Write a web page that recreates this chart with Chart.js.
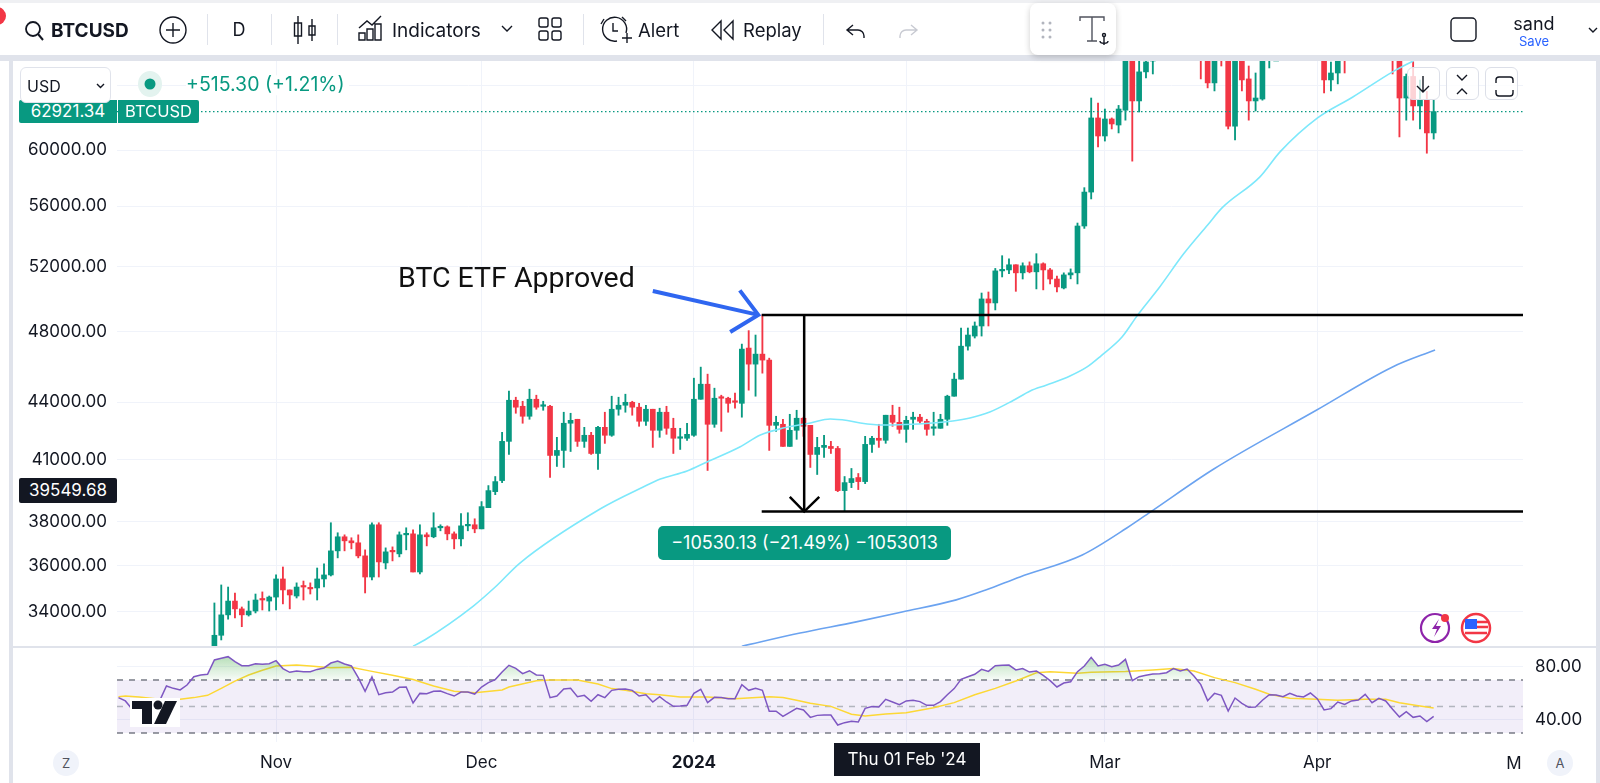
<!DOCTYPE html>
<html>
<head>
<meta charset="utf-8">
<title>BTCUSD</title>
<script src="https://cdn.jsdelivr.net/npm/chart.js@4"></script>
<style>
  html, body { margin: 0; padding: 0; background: #fff; }
  body { width: 1600px; height: 783px; position: relative; overflow: hidden; font-family: Inter, sans-serif; color: #131722; }
  canvas { position: absolute; left: 0; display: block; }
  .abs { position: absolute; white-space: nowrap; line-height: 1; }
  .mid { transform: translateY(-50%); }
  .center { transform: translate(-50%, -50%); }
  .sep { position: absolute; top: 14px; height: 31px; width: 1px; background: #e0e3eb; }
  .band { position: absolute; background: #e0e3eb; }
  .tag { position: absolute; color: #fff; display: flex; align-items: center; justify-content: center; font-size: 16.500px; line-height: 1; overflow: hidden; }
  .pane-btn { position: absolute; top: 67px; width: 31px; height: 31px; background: rgba(255,255,255,.78); border: 1.5px solid #dcdfe8; border-radius: 6px; }
  .round { position: absolute; width: 26px; height: 26px; border-radius: 50%; background: #f0f3fa; display: flex; align-items: center; justify-content: center; font-size: 13px; color: #50535e; }
  svg { position: absolute; overflow: visible; }
</style>
</head>
<body>
<canvas id="priceChart" width="1600" height="646" style="top:0"></canvas>
<canvas id="rsiChart" width="1600" height="137" style="top:646px"></canvas>

<!-- шапка -->
<div class="band" style="left:0;top:0;width:1600px;height:3px;background:#eff0f3"></div>
<div class="band" style="left:0;top:55px;width:1600px;height:6px"></div>
<div class="band" style="left:9px;top:55px;width:4px;height:728px"></div>
<div class="band" style="left:1596px;top:55px;width:4px;height:728px"></div>
<div class="band" style="left:13px;top:646px;width:1583px;height:1.5px"></div>
<div style="position:absolute;left:0;top:3px;width:1600px;height:52px;background:#fff"></div>

<svg style="left:0;top:0" width="1600" height="60" fill="none" stroke="#131722" stroke-width="1.4">
  <circle cx="-3" cy="16" r="9" fill="#f23645" stroke="none"/>
  <circle cx="33" cy="29" r="7" stroke-width="1.8"/><path d="M38 34l5 6" stroke-width="2"/>
  <circle cx="173" cy="30" r="13"/><path d="M173 23v14M166 30h14"/>
  <path d="M298 16v28M312 19v22M294.500 23h7v13h-7zM309 26h6v9h-6z"/>
  <path d="M359 40V33h6v7zM367 40V29h6v11zM375 40V24h6v16zM359 28l8-7 5 4 9-9"/>
  <path d="M502 26l5 5 5-5"/>
  <rect x="539" y="18" width="9" height="9" rx="2"/><rect x="552" y="18" width="9" height="9" rx="2"/>
  <rect x="539" y="31" width="9" height="9" rx="2"/><rect x="552" y="31" width="9" height="9" rx="2"/>
  <path d="M617 41a12 12 0 1 1 9-8M613 23v8h5M622 38h10M627 33v10M604 19l-3 5M622 17l4 4"/>
  <path d="M721 21l-9 9 9 9zM733 21l-9 9 9 9z"/>
  <path d="M853 25l-6 5 6 5M848 30h10a6 6 0 0 1 6 6v2"/>
  <path d="M911 25l6 5-6 5M916 30h-10a6 6 0 0 0-6 6v2" stroke="#c8cad2"/>
</svg>
<div class="abs mid" style="left:51px;top:30px;font-size:19px;font-weight:700">BTCUSD</div>
<div class="sep" style="left:207px"></div>
<div class="abs center" style="left:239px;top:30px;font-size:18px">D</div>
<div class="sep" style="left:271px"></div>
<div class="sep" style="left:337px"></div>
<div class="abs mid" style="left:392px;top:30px;font-size:19px">Indicators</div>
<div class="sep" style="left:583px"></div>
<div class="abs mid" style="left:638px;top:30px;font-size:18.500px">Alert</div>
<div class="abs mid" style="left:743px;top:30px;font-size:18.500px">Replay</div>
<div class="sep" style="left:823px"></div>

<div style="position:absolute;left:1030px;top:3px;width:86px;height:52px;background:#fff;border-radius:8px;box-shadow:0 2px 6px rgba(0,0,0,.2)"></div>
<svg style="left:0;top:0" width="1600" height="60" fill="none" stroke="#50535e" stroke-width="1.4">
  <g fill="#b2b5be" stroke="none">
    <circle cx="1043" cy="23" r="1.5"/><circle cx="1050" cy="23" r="1.5"/>
    <circle cx="1043" cy="30" r="1.5"/><circle cx="1050" cy="30" r="1.5"/>
    <circle cx="1043" cy="37" r="1.5"/><circle cx="1050" cy="37" r="1.5"/>
  </g>
  <path d="M1080 21v-4h24v4M1092 17v24M1087 41h10"/>
  <circle cx="1104" cy="35" r="1.5" stroke="#131722"/><path d="M1104 36v9M1100 41c0 3 8 3 8 0" stroke="#131722"/>
  <rect x="1451" y="18" width="25" height="23" rx="4" stroke="#131722"/>
  <path d="M1589 28l4 4 4-4" stroke="#131722"/>
</svg>
<div class="abs center" style="left:1534px;top:24px;font-size:18px">sand</div>
<div class="abs center" style="left:1534px;top:41px;font-size:13px;color:#2962ff">Save</div>

<!-- подписи на панели цены -->
<div class="tag" style="left:19px;top:100px;width:98px;height:23px;background:#089981;border-radius:2px 0 0 2px;font-size:17px;box-sizing:border-box">62921.34</div>
<div class="tag" style="left:118px;top:100px;width:81px;height:23px;background:#089981;border-radius:0 2px 2px 0">BTCUSD</div>
<div class="tag" style="left:19px;top:478px;width:98px;height:25px;background:#131722;border-radius:2px;font-size:17px">39549.68</div>
<div style="position:absolute;left:20px;top:67px;width:91px;height:36px;box-sizing:border-box;background:#fff;border:1.5px solid #e0e3eb;border-radius:6px"></div>
<div class="abs mid" style="left:27px;top:86px;font-size:16px">USD</div>
<svg style="left:0;top:60px" width="200" height="50" fill="none">
  <path d="M97 24l3.500 3.500 3.500-3.500" stroke="#131722" stroke-width="1.400"/>
  <ellipse cx="150" cy="24" rx="12" ry="13" fill="#e3f3ef"/>
  <circle cx="150" cy="24" r="5.500" fill="#089981"/>
</svg>
<div class="abs mid" style="left:186px;top:85px;font-size:19.500px;color:#089981;background:#fff;padding:0 4px 0 0">+515.30 (+1.21%)</div>
<div class="pane-btn" style="left:1407px"></div>
<div class="pane-btn" style="left:1446px"></div>
<div class="pane-btn" style="left:1485px"></div>
<svg style="left:0;top:60px" width="1600" height="50" fill="none" stroke="#131722" stroke-width="1.400">
  <path d="M1423 16v16M1417 26l6 6 6-6"/>
  <path d="M1457 15l5 5 5-5M1457 34l5-5 5 5"/>
  <path d="M1496 23v-3a3 3 0 0 1 3-3h11a3 3 0 0 1 3 3v3M1496 30v3a3 3 0 0 0 3 3h11a3 3 0 0 0 3-3v-3"/>
</svg>

<div class="abs mid" style="left:398px;top:278px;font-size:28.500px;font-family:Roboto,sans-serif;color:#111">BTC ETF Approved</div>
<div class="tag" style="left:658px;top:526px;width:293px;height:34px;background:#089981;border-radius:5px;font-size:18px">−10530.13 (−21.49%) −1053013</div>

<svg style="left:0;top:0" width="1600" height="783" fill="none">
  <circle cx="1435" cy="628" r="14" stroke="#8e24aa" stroke-width="2.200"/>
  <path d="M1439 619l-7 10h5l-3 8 7-11h-5z" fill="#8e24aa"/>
  <circle cx="1445" cy="618" r="4" fill="#f23645"/>
  <circle cx="1476" cy="628" r="14" fill="#fff" stroke="#f23645" stroke-width="2.500"/>
  <rect x="1465" y="619" width="12" height="10" fill="#2962ff"/>
  <path d="M1477 622h11M1477 627h11M1465 633h22" stroke="#f23645" stroke-width="2.500"/>
  <!-- логотип -->
  <rect x="130" y="698" width="50" height="29" fill="#fff"/>
  <path d="M132 701h20v23h-10v-15h-10z" fill="#131722"/>
  <circle cx="158" cy="705" r="4.500" fill="#131722"/>
  <path d="M165 701h12l-11 23h-12z" fill="#131722"/>
</svg>

<div class="round" style="left:53px;top:750px">Z</div>
<div class="round" style="left:1547px;top:750px">A</div>
<div class="abs center" style="left:1514px;top:763px;font-size:17px">M</div>
<div class="tag" style="left:834px;top:743px;width:146px;height:33px;background:#131722;font-size:17px">Thu 01 Feb '24</div>

<script>
// Дневные свечи BTCUSD, с 23 окт. 2023 по 18 апр. 2024
const candleStartDay = 14;
const opens = [
  31000, 33040, 33880, 34460, 34130, 33880, 34040, 34550, 34460, 34630,
  35410, 34935, 34675, 35105, 35020, 35020, 35410, 35585, 36655, 37295,
  37110, 37020, 36430, 35495, 37850, 36115, 36655, 36520, 37385, 37430,
  35715, 37385, 37295, 37710, 37755, 37430, 37200, 37800, 37850, 37660,
  38655, 39425, 39965, 41940, 44115, 43790, 43255, 44170, 43790, 43790,
  41220, 41475, 42885, 43095, 41940, 42255, 41320, 42670, 42255, 43630,
  43845, 44005, 43740, 42990, 43630, 42515, 43470, 42620, 42100, 42100,
  42255, 44170, 44995, 42830, 44280, 44225, 44060, 43950, 47040, 46120,
  46690, 46350, 42775, 42830, 41680, 42515, 43150, 42775, 41270, 41630,
  41680, 41575, 39475, 39865, 40115, 39915, 41785, 42100, 41995, 43310,
  42935, 42565, 43095, 43205, 42990, 42620, 42620, 43095, 44335, 45275,
  47150, 47740, 48335, 49970, 49725, 51725, 51785, 52115, 51600, 52050,
  51665, 52180, 51785, 51210, 50650, 51470, 51600, 54660, 56990, 62430,
  61060, 62350, 61890, 63030, 68300, 63750, 66070, 66960, 68300, 68500,
  69000, 72100, 71500, 73100, 71400, 69500, 65180, 68400, 67600, 61800,
  67800, 65500, 63750, 63900, 67200, 69900, 69950, 69500, 70700, 69900,
  69600, 71300, 69700, 65420, 65980, 68500, 67800, 68900, 69400, 71600,
  69100, 70600, 70100, 67200, 63980, 65700, 63360, 63810, 61290
];
const highs = [
  34380, 35150, 35060, 34800, 34210, 34460, 34760, 34850, 34675, 35585,
  35935, 34935, 35240, 35320, 35240, 35890, 36070, 37945, 37480, 37385,
  37250, 37385, 36700, 37945, 37945, 36790, 36835, 37520, 37710, 37615,
  37850, 37480, 38415, 37850, 37800, 37520, 38370, 38415, 38130, 38945,
  39720, 40165, 42410, 44610, 44280, 44060, 44720, 44390, 44060, 43845,
  42150, 43470, 43415, 43095, 42670, 42410, 42725, 43470, 44335, 44280,
  44445, 44060, 43950, 43845, 43630, 43685, 43790, 43150, 42620, 42885,
  45330, 45950, 45555, 44775, 44390, 44280, 44500, 47270, 48060, 47800,
  49000, 46460, 43255, 43095, 43360, 43575, 43205, 42775, 42150, 42255,
  41940, 41680, 40165, 40565, 40315, 42200, 42200, 42830, 43310, 43845,
  43740, 43255, 43470, 43360, 43095, 43470, 43360, 44390, 45610, 48215,
  48215, 48575, 50335, 50400, 51880, 52700, 52500, 52115, 52240, 52300,
  52830, 52240, 51880, 51390, 51600, 51850, 54860, 57300, 63980, 63590,
  63120, 62430, 63400, 68500, 69000, 67500, 67600, 69900, 69300, 70000,
  72800, 72900, 73700, 73600, 72400, 70000, 68900, 68500, 68200, 68100,
  68200, 66550, 65980, 67500, 71500, 71500, 71500, 71500, 70900, 70300,
  71400, 71300, 69700, 66880, 69000, 68700, 69200, 70300, 72700, 72700,
  71000, 71300, 71200, 67600, 65900, 66900, 65400, 64500, 63810
];
const lows = [
  30900, 32850, 33700, 33750, 33390, 33830, 33960, 34085, 34040, 34085,
  34340, 34130, 34590, 34505, 34760, 34505, 35060, 35540, 36340, 36655,
  36745, 36340, 34805, 35365, 35495, 35850, 36205, 36385, 36700, 35715,
  35630, 36880, 37250, 37570, 37155, 36745, 36880, 37570, 37480, 37660,
  38655, 39280, 39865, 41270, 43415, 42885, 43095, 43630, 43575, 40115,
  40665, 40615, 41420, 41680, 41630, 41270, 40515, 41835, 42200, 43310,
  43470, 43310, 42725, 42775, 41630, 42150, 42305, 41320, 41525, 41995,
  42200, 44170, 40465, 42670, 42460, 43470, 43685, 43205, 44665, 44335,
  45610, 41475, 42460, 41680, 41680, 42045, 42200, 40615, 40265, 41115,
  41320, 39425, 38470, 39620, 39525, 39815, 41370, 41630, 41840, 42725,
  42360, 41890, 42565, 42885, 42255, 42255, 42620, 42775, 44335, 45275,
  46920, 47625, 47740, 48335, 49300, 51340, 51550, 50440, 51210, 51600,
  50590, 50530, 50900, 50405, 50590, 51220, 50900, 54500, 56510, 60240,
  60680, 61590, 61290, 62260, 59200, 62890, 65580, 65900, 68000, 67800,
  68700, 69300, 68600, 68600, 65500, 64780, 64540, 66550, 61590, 60770,
  64540, 62260, 62970, 63810, 66390, 68000, 68400, 68900, 69100, 69600,
  69500, 68100, 64380, 64540, 65100, 65980, 67500, 68800, 69200, 68200,
  67500, 69600, 65900, 60990, 62260, 62260, 61590, 59780, 60830
];
const closes = [
  33040, 33880, 34460, 34130, 33880, 34040, 34505, 34505, 34630, 35410,
  34935, 34720, 35060, 35060, 34980, 35410, 35585, 36655, 37295, 37110,
  37020, 36430, 35495, 37850, 36160, 36610, 36610, 37385, 37430, 35715,
  37385, 37295, 37710, 37755, 37430, 37200, 37800, 37850, 37660, 38705,
  39475, 39915, 41940, 44115, 43740, 43255, 44170, 43740, 43845, 41220,
  41475, 42885, 43040, 41940, 42255, 41320, 42670, 42255, 43630, 43845,
  44005, 43740, 42990, 43630, 42515, 43470, 42620, 42100, 42150, 42305,
  44170, 44995, 42830, 44225, 44225, 43950, 44005, 46980, 46120, 46690,
  46350, 42775, 42935, 41680, 42515, 43150, 42725, 41270, 41630, 41735,
  41575, 39475, 39865, 40065, 39915, 41785, 42100, 41995, 43310, 42935,
  42565, 43040, 43205, 42990, 42565, 42670, 43095, 44335, 45275, 47150,
  47800, 48335, 49970, 49725, 51725, 51785, 52115, 51600, 52050, 51665,
  52180, 51785, 51210, 50715, 51470, 51600, 54660, 56990, 62430, 61060,
  62350, 61970, 63120, 68300, 63750, 66070, 66880, 68300, 68500, 69000,
  72100, 71500, 73100, 71400, 69500, 65180, 68400, 67600, 61800, 67800,
  65420, 63750, 63980, 67200, 69900, 69950, 69500, 70700, 69900, 69600,
  71300, 69700, 65420, 65980, 68500, 67800, 68900, 69400, 71600, 69100,
  70600, 70100, 67200, 63980, 65700, 63360, 63810, 61290, 62921
];

const fastMaDays = [43, 44.7, 51.8, 55, 58.6, 70.3, 76.6, 79.1, 83, 85.9, 90.7, 93.7, 97, 101, 103.9, 106.4, 108.3, 111.6, 118.9, 121.8, 124.3, 127.2, 130.6, 133.1, 135.5, 138.9, 141.4, 143.4, 146.5, 148.8, 152, 155.5, 159, 161.1, 166.6, 169.6, 175, 180.2, 186, 189];
const fastMaValues = [32600, 32850, 34250, 35060, 36110, 38590, 39650, 40040, 40440, 40890, 41650, 42270, 42630, 42900, 43110, 43030, 42900, 42790, 42900, 43000, 43160, 43480, 44100, 44620, 44950, 45450, 45960, 46580, 47680, 49000, 50710, 52820, 54730, 55890, 58050, 59900, 62420, 64060, 66070, 66960];
const slowMaDays = [91, 99.5, 107.7, 114.4, 122.3, 126.6, 131.6, 140.7, 147.2, 151, 159.9, 174.8, 186, 192.2];
const slowMaValues = [32600, 33130, 33590, 34000, 34510, 34930, 35500, 36470, 37700, 38530, 40540, 43560, 45960, 46930];

// RSI, по значению на каждый день с 9 окт.
const rsiValues = [
  56.7, 54.2, 47.9, 44.1, 42.8, 44.1, 54.2, 65.5, 63.7, 62.5,
  66.2, 72.5, 73.8, 74.3, 85.1, 86.4, 87.6, 83.8, 80.8, 80.8,
  82.3, 81.8, 82.3, 84.6, 78.6, 75.8, 76.8, 76.3, 76.3, 78,
  79.1, 82.8, 84.3, 82.1, 80.6, 71.8, 61.5, 72.3, 58.9, 60.4,
  60.9, 64.5, 64.7, 52.6, 59.9, 59.7, 61.5, 61.7, 59.7, 57.9,
  60.9, 60.9, 59.4, 64.7, 68, 70.3, 76, 81.1, 78.8, 74.8,
  77, 73.8, 73.5, 56.7, 57.9, 63.2, 63.7, 57.4, 58.4, 53.9,
  58.9, 56.7, 62.2, 63, 63.2, 62.2, 57.9, 58.9, 53.4, 57.4,
  53.4, 50.1, 50.4, 50.9, 59.9, 63, 52.9, 56.9, 56.7, 55.9,
  55.9, 66.5, 62.2, 63.7, 62.2, 46.4, 46.4, 42.6, 45.6, 48.6,
  47.4, 41.8, 43.3, 43.6, 43.6, 36, 37.8, 38.8, 38.3, 48.6,
  49.9, 49.6, 55.4, 53.4, 51.4, 54.2, 54.7, 53.7, 50.9, 50.9,
  53.7, 58.9, 63.5, 70.5, 72.5, 74.3, 78, 76.5, 80.8, 81.1,
  81.3, 77.6, 78.6, 76, 76.8, 73.5, 69.5, 64.7, 67.7, 68.7,
  76.3, 80.6, 87.1, 80.6, 81.8, 80.1, 81.3, 85.6, 69.5, 72.5,
  73.5, 74.5, 74.8, 75.5, 78.6, 76.8, 78.3, 73, 66.5, 54.4,
  59.9, 58.4, 46.6, 56.4, 52.4, 49.4, 49.6, 54.7, 58.9, 58.7,
  57.4, 59.9, 57.9, 57.2, 60.2, 55.9, 47.4, 48.4, 53.4, 51.6,
  54.2, 54.9, 59.2, 52.9, 56.2, 54.2, 47.9, 42.1, 46.1, 41.8,
  42.8, 38.6, 42.6
];
const rsiMaDays = [0, 1, 3, 6, 9, 11, 13, 15, 17, 19, 21, 23, 26, 28, 31, 34, 37, 40, 43, 46, 49, 52, 56, 57, 61, 63, 67, 70, 72, 74, 77, 79, 82, 86, 90, 95, 97, 99, 101, 104, 107, 109, 112, 115, 119, 122, 125, 128, 131, 134, 136, 140, 142, 147, 151, 154, 157, 160, 163, 166, 168, 171, 175, 178, 182, 185, 187, 190, 192];
const rsiMaValues = [57.4, 57.9, 57.2, 55.4, 55.4, 56.7, 58.4, 63.7, 69.2, 73.8, 77.3, 80.6, 81.3, 80.6, 79.3, 79.6, 76.5, 73.5, 70.3, 65.5, 61.5, 60.4, 62.5, 64.7, 69.5, 70, 70, 67, 63.5, 62.2, 59.7, 58.9, 57.2, 57.2, 55.9, 57.4, 56.7, 54.7, 52.4, 50.1, 44.1, 42.8, 44.3, 45.3, 49.1, 52.9, 58.9, 63.7, 69.2, 75.5, 76.3, 75, 75.8, 76.5, 77.6, 78.6, 76.8, 71.8, 68, 63, 59.2, 56.2, 55.4, 54.7, 55.4, 55.4, 52.9, 50.4, 48.9];

// Оси
const priceTicks = [34000, 36000, 38000, 41000, 44000, 48000, 52000, 56000, 60000, 65000];
const hiddenPriceTick = 65000;
const rsiTicks = [40, 80];
const monthDays = [23, 53, 84, 115, 144, 175];
const monthLabels = ['Nov', 'Dec', '2024', '', 'Mar', 'Apr'];

// Уровни и разметка
const lastPrice = 62921.34;
const topLevel = 49000;
const bottomLevel = 38469.9;
const levelStartDay = 93.9;
const measureDay = 100.1;
const arrowHeadDays = [98, 100.1, 102.3];
const arrowHeadPrices = [39170, 38470, 39170];
const etfArrowDays = [78, 93.4];
const etfArrowPrices = [50460, 49000];
const etfBarbDays = [90.7, 93.4, 89.3];
const etfBarbPrices = [50500, 49000, 47980];

const dayMin = -0.22;
const dayMax = 205.04;
const priceMin = 32607;
const priceMax = 66960;
const rsiMin = 23.2;
const rsiMax = 95.66;

const upColor = '#089981';
const downColor = '#f23645';
const gridColor = '#f0f3fa';

const zip = (xs, ys) => xs.map((x, i) => ({ x, y: ys[i] }));
const flat = (value) => [{ x: dayMin, y: value }, { x: dayMax, y: value }];
const candleColors = closes.map((c, i) => (c >= opens[i] ? upColor : downColor));

function lineSet(data, color, width, order, extra) {
  return Object.assign({
    type: 'line', data, borderColor: color, borderWidth: width, order,
    pointRadius: 0, tension: 0, fill: false
  }, extra || {});
}

function setMonthTicks(scale) {
  scale.ticks = monthDays.map(value => ({ value }));
}

// ticks.padding попадает и в вертикальный отступ области графика, убираем
function fitPriceAxis(width) {
  return (scale) => {
    scale.width = width;
    scale.paddingTop = 0;
    scale.paddingBottom = 0;
  };
}

new Chart(document.getElementById('priceChart'), {
  type: 'bar',
  data: {
    datasets: [
      lineSet(zip(etfArrowDays, etfArrowPrices), '#2f66f0', 4, 0),
      lineSet(zip(etfBarbDays, etfBarbPrices), '#2f66f0', 4, 0),
      lineSet([{ x: levelStartDay, y: topLevel }, { x: dayMax, y: topLevel }], '#000', 2.5, 0),
      lineSet([{ x: levelStartDay, y: bottomLevel }, { x: dayMax, y: bottomLevel }], '#000', 2.5, 0),
      lineSet([{ x: measureDay, y: topLevel }, { x: measureDay, y: bottomLevel }], '#000', 2.5, 0),
      lineSet(zip(arrowHeadDays, arrowHeadPrices), '#000', 2.5, 0),
      lineSet(flat(lastPrice), upColor, 1.3, 1, { borderDash: [1.5, 2.5] }),
      lineSet(zip(fastMaDays, fastMaValues), '#7de8fb', 1.6, 1, { cubicInterpolationMode: 'monotone' }),
      lineSet(zip(slowMaDays, slowMaValues), '#6ba3f0', 1.6, 1, { cubicInterpolationMode: 'monotone' }),
      {
        data: opens.map((o, i) => ({ x: candleStartDay + i, y: [o, closes[i]] })),
        backgroundColor: candleColors, barThickness: 5, minBarLength: 1.5, grouped: false, order: 2
      },
      {
        data: lows.map((l, i) => ({ x: candleStartDay + i, y: [l, highs[i]] })),
        backgroundColor: candleColors, barThickness: 1.2, grouped: false, order: 3
      }
    ]
  },
  options: {
    responsive: false,
    animation: false,
    events: [],
    layout: { autoPadding: false, padding: { top: 61, right: 77, bottom: 0, left: 0 } },
    plugins: { legend: { display: false }, tooltip: { enabled: false } },
    scales: {
      x: {
        type: 'linear', offset: false, min: dayMin, max: dayMax,
        afterBuildTicks: setMonthTicks,
        afterFit: (scale) => { scale.height = 0; },
        grid: { color: gridColor, offset: false, drawTicks: false },
        border: { display: false },
        ticks: { display: false }
      },
      y: {
        type: 'logarithmic', position: 'left', min: priceMin, max: priceMax, bounds: 'data',
        afterBuildTicks: (scale) => { scale.ticks = priceTicks.map(value => ({ value })); },
        afterFit: fitPriceAxis(117),
        grid: { color: gridColor, drawTicks: false },
        border: { display: false },
        ticks: {
          autoSkip: false, padding: 10, color: '#131722',
          font: { family: 'Inter', size: 17 },
          callback: (value) => (value === hiddenPriceTick ? '' : Number(value).toFixed(2))
        }
      }
    }
  }
});

// Панель RSI
const rsiCanvas = document.getElementById('rsiChart');
const overboughtFill = rsiCanvas.getContext('2d').createLinearGradient(0, 4, 0, 34);
overboughtFill.addColorStop(0, 'rgba(76,175,80,.5)');
overboughtFill.addColorStop(1, 'rgba(76,175,80,.04)');

new Chart(rsiCanvas, {
  type: 'line',
  data: {
    datasets: [
      lineSet(rsiValues.map((y, x) => ({ x, y })), '#7e57c2', 1.5, 0, {
        fill: { target: { value: 70 }, above: overboughtFill, below: 'transparent' }
      }),
      lineSet(zip(rsiMaDays, rsiMaValues), '#fdd835', 1.5, 1),
      lineSet(flat(70), '#787b86', 1.5, 2, { borderDash: [6, 6] }),
      lineSet(flat(50), '#b2b5be', 1.5, 2, { borderDash: [6, 6] }),
      lineSet(flat(30), '#787b86', 1.5, 2, { borderDash: [6, 6] }),
      lineSet(flat(70), 'transparent', 0, 3, {
        fill: { target: { value: 30 }, above: 'rgba(126,87,194,.1)', below: 'transparent' }
      })
    ]
  },
  options: {
    responsive: false,
    animation: false,
    events: [],
    layout: { autoPadding: false, padding: { top: 0, right: 0, bottom: 0, left: 117 } },
    plugins: { legend: { display: false }, tooltip: { enabled: false } },
    scales: {
      x: {
        type: 'linear', min: dayMin, max: dayMax,
        afterBuildTicks: setMonthTicks,
        afterFit: (scale) => { scale.height = 41; },
        grid: { color: gridColor, drawTicks: false },
        border: { display: false },
        ticks: {
          autoSkip: false, maxRotation: 0, padding: 11, color: '#131722',
          font: (ctx) => ({ family: 'Inter', size: 17, weight: ctx.index === 2 ? '700' : '400' }),
          callback: (value, index) => monthLabels[index]
        }
      },
      y: {
        position: 'right', min: rsiMin, max: rsiMax,
        afterBuildTicks: (scale) => { scale.ticks = rsiTicks.map(value => ({ value })); },
        afterFit: fitPriceAxis(77),
        grid: { color: gridColor, drawTicks: false },
        border: { display: false },
        ticks: {
          autoSkip: false, padding: 12, color: '#131722',
          font: { family: 'Inter', size: 17 },
          callback: (value) => Number(value).toFixed(2)
        }
      }
    }
  }
});
</script>
</body>
</html>
